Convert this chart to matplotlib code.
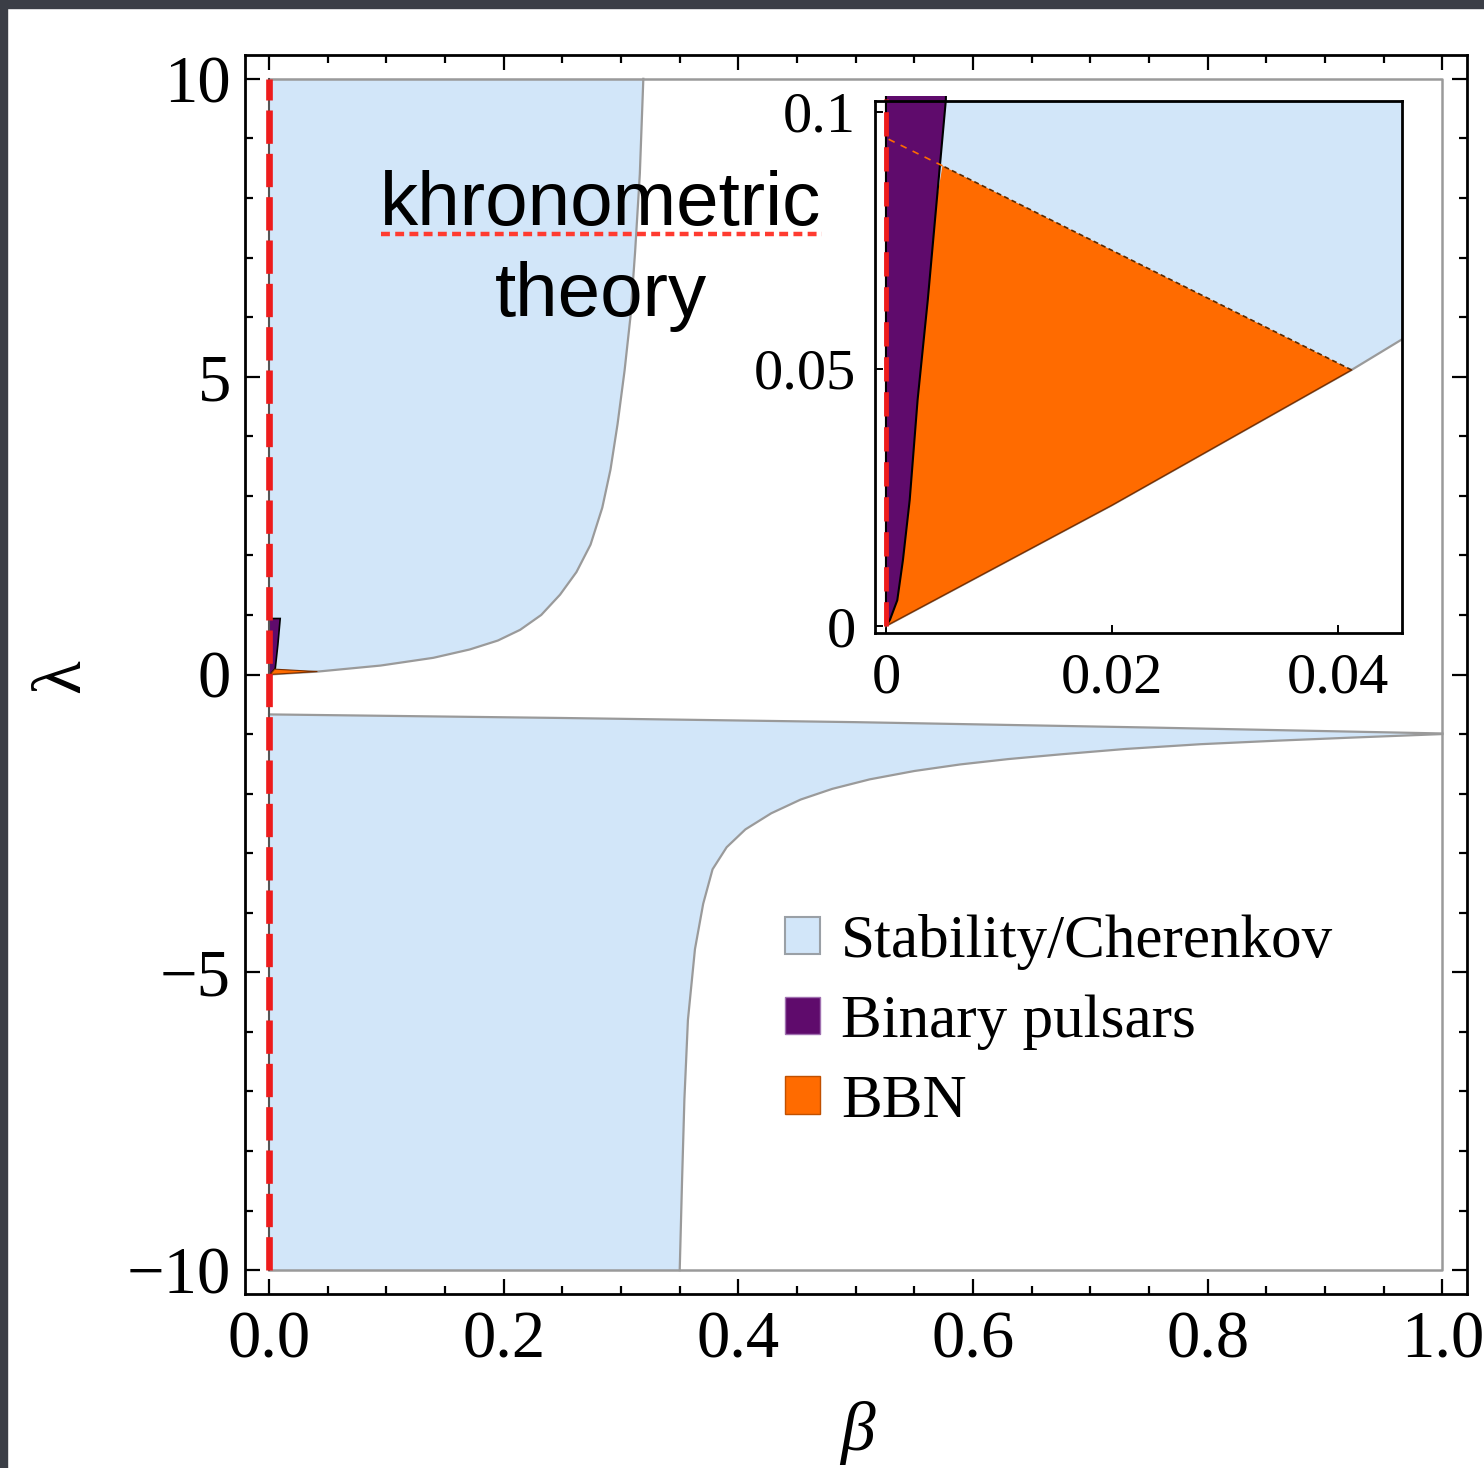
import matplotlib
matplotlib.use("Agg")
import matplotlib.pyplot as plt
from matplotlib.patches import Patch, Rectangle

# --- data ------------------------------------------------------------------
# upper stability/Cherenkov boundary (beta, lambda)
beta_upper = [0.0, 0.042, 0.095, 0.14, 0.171, 0.195, 0.214, 0.232, 0.248, 0.262,
              0.274, 0.284, 0.291, 0.297, 0.303, 0.308, 0.312, 0.316, 0.319]
lam_upper = [0.0, 0.05, 0.15, 0.28, 0.42, 0.57, 0.75, 1.0, 1.34, 1.72,
             2.18, 2.8, 3.44, 4.2, 5.1, 6.0, 7.1, 8.4, 10.0]

# lower band: top edge and right-hand curve
beta_band_top = [0.0, 0.25, 0.5, 0.75, 1.0]
lam_band_top = [-0.67, -0.73, -0.80, -0.89, -0.99]
beta_lower = [0.35, 0.352, 0.354, 0.357, 0.363, 0.37, 0.378, 0.39, 0.406, 0.428, 0.453,
              0.48, 0.512, 0.55, 0.589, 0.63, 0.675, 0.73, 0.794, 0.86, 0.922, 1.0]
lam_lower = [-10.0, -8.5, -7.13, -5.8, -4.61, -3.85, -3.27, -2.9, -2.60, -2.33, -2.10,
             -1.92, -1.76, -1.62, -1.51, -1.42, -1.34, -1.25, -1.17, -1.11, -1.06, -1.0]

# binary pulsars: right edge of the allowed strip
beta_pulsar = [0.0, 0.00035, 0.001, 0.0015, 0.0021, 0.0028, 0.0037, 0.0045, 0.0053, 0.0075, 0.0095]
lam_pulsar = [0.0, 0.0012, 0.005, 0.0128, 0.0245, 0.044, 0.0634, 0.0829, 0.1023, 0.5, 0.94]

# BBN region: lower edge along the stability line, upper edge to the pulsar strip
beta_stab_inset = [0.0, 0.02, 0.0412, 0.0457]
lam_stab_inset = [0.0, 0.0235, 0.0498, 0.0558]
beta_bbn_top = [0.0412, 0.005]
lam_bbn_top = [0.0498, 0.0895]

x_ticks = [0.0, 0.2, 0.4, 0.6, 0.8, 1.0]
x_labels = ["0.0", "0.2", "0.4", "0.6", "0.8", "1.0"]
y_ticks = [-10, -5, 0, 5, 10]
y_labels = ["\u221210", "\u22125", "0", "5", "10"]
inset_x_ticks = [0.0, 0.02, 0.04]
inset_x_labels = ["0", "0.02", "0.04"]
inset_y_ticks = [0.0, 0.05, 0.1]
inset_y_labels = ["0", "0.05", "0.1"]

legend_labels = ["Stability/Cherenkov", "Binary pulsars", "BBN"]

BLUE = "#d2e6f9"
PURPLE = "#5f0b6c"
ORANGE = "#ff6b00"
GREY = "#9a9a9a"
RED = "#ee1c1c"

plt.rcParams["font.family"] = ["Liberation Serif", "DejaVu Serif"]

W, H = 1484, 1468
fig = plt.figure(figsize=(W / 100, H / 100), dpi=100)
fig.patch.set_facecolor("white")

# dark slide frame along the top and left edges
fig.patches.append(Rectangle((0, 1 - 8 / H), 1, 8 / H, transform=fig.transFigure,
                             color="#3b3e46", zorder=0))
fig.patches.append(Rectangle((0, 0), 7 / W, 1, transform=fig.transFigure,
                             color="#3b3e46", zorder=0))


def pulsar_poly():
    xs = list(beta_pulsar) + [0.0]
    ys = list(lam_pulsar) + [lam_pulsar[-1]]
    return xs, ys


def bbn_poly():
    xs = list(beta_stab_inset[:3]) + list(beta_bbn_top[1:])
    ys = list(lam_stab_inset[:3]) + list(lam_bbn_top[1:])
    # follow the pulsar edge back down to the origin
    for b, l in reversed(list(zip(beta_pulsar, lam_pulsar))):
        if l < lam_bbn_top[-1]:
            xs.append(b)
            ys.append(l)
    return xs, ys


# --- main axes -------------------------------------------------------------
ax = fig.add_axes([245 / W, 1 - 1294 / H, (1467 - 245) / W, (1294 - 55) / H])
ax.set_xlim(-0.0205, 1.021)
ax.set_ylim(-10.4, 10.4)

ux = [0.0] + beta_upper + [beta_upper[-1]]
uy = [10.0] + lam_upper + [10.0]
ax.fill(ux, uy, color=BLUE, lw=0, zorder=1)
ax.plot(beta_upper, lam_upper, color=GREY, lw=1.6, zorder=2)

lx = [0.0] + beta_lower + beta_band_top[::-1]
ly = [-10.0] + lam_lower + lam_band_top[::-1]
ax.fill(lx, ly, color=BLUE, lw=0, zorder=1)
ax.plot(beta_lower, lam_lower, color=GREY, lw=1.6, zorder=2)
ax.plot(beta_band_top, lam_band_top, color=GREY, lw=1.6, zorder=2)

# region-plot frame
ax.plot([0, 1, 1, 0], [10, 10, -10, -10], color=GREY, lw=1.8, zorder=2)

px, py = pulsar_poly()
ax.fill(px, py, facecolor=PURPLE, edgecolor="black", lw=1.2, zorder=3)
bx, by = bbn_poly()
ax.fill(bx, by, facecolor=ORANGE, edgecolor="#7a3000", lw=0.8, zorder=3)

ax.plot([0, 0], [-10, 10], color="#555555", lw=1.5, zorder=4)
ax.plot([0, 0], [-10, 10], color=RED, lw=4.8, dashes=(5, 1.5), zorder=5)

ax.set_xticks(x_ticks)
ax.set_xticklabels(x_labels)
ax.set_yticks(y_ticks)
ax.set_yticklabels(y_labels)
ax.set_xticks([i * 0.05 for i in range(21)], minor=True)
ax.set_yticks(list(range(-10, 11)), minor=True)
ax.tick_params(which="both", direction="in", top=True, right=True, width=1.6,
               labelsize=48, colors="black")
ax.tick_params(which="major", length=11)
ax.tick_params(which="minor", length=6)
ax.tick_params(axis="x", pad=12)
ax.tick_params(axis="y", pad=10)
for s in ax.spines.values():
    s.set_linewidth(2.0)

fig.text(857 / W, 1 - 1433 / H, "\u03b2", fontsize=50, style="italic",
         ha="center", va="center")
fig.text(62 / W, 1 - 676 / H, "\u03bb", fontsize=50, rotation=90,
         ha="center", va="center")

handles = [Patch(facecolor=BLUE, edgecolor="#9aa0a6", lw=1.5),
           Patch(facecolor=PURPLE, edgecolor="#a070b0", lw=1.0),
           Patch(facecolor=ORANGE, edgecolor="#c05000", lw=1.0)]
ax.legend(handles, legend_labels, loc="upper left",
          bbox_to_anchor=(785 / W, 1 - 914 / H), bbox_transform=fig.transFigure,
          frameon=False, fontsize=44, borderpad=0, borderaxespad=0,
          handlelength=0.57, handleheight=0.57, handletextpad=0.35,
          labelspacing=0.40)

# annotation in a sans font, with the spell-check squiggle
fig.text(601 / W, 1 - 205 / H, "khronometric", fontsize=55,
         family=["Liberation Sans", "DejaVu Sans"], ha="center", va="center")
fig.text(601 / W, 1 - 297 / H, "theory", fontsize=55,
         family=["Liberation Sans", "DejaVu Sans"], ha="center", va="center")
fig.add_artist(plt.Line2D([381 / W, 822 / W], [1 - 234 / H, 1 - 234 / H],
                          transform=fig.transFigure, color="#ff3b30", lw=3.2,
                          dashes=(2.0, 1.2)))

# --- inset -----------------------------------------------------------------
ins = fig.add_axes([875 / W, 1 - 633 / H, (1402 - 875) / W, (633 - 101) / H])
ins.set_xlim(-0.00097, 0.04566)
ins.set_ylim(-0.00136, 0.1021)
ins.set_facecolor("white")

sx = list(beta_stab_inset) + [beta_stab_inset[-1], 0.0]
sy = list(lam_stab_inset) + [0.12, 0.12]
ins.fill(sx, sy, color=BLUE, lw=0, zorder=1)
ins.plot(beta_stab_inset, lam_stab_inset, color=GREY, lw=1.6, zorder=2)

clip = Rectangle((-0.002, -0.00136), 0.05, 0.1045, transform=ins.transData)
bx, by = bbn_poly()
ins.fill(bx, by, facecolor=ORANGE, edgecolor="none", zorder=3)
ins.plot(beta_bbn_top, lam_bbn_top, color="#5a2a00", lw=1.2, dashes=(3, 2), zorder=4)
ins.plot(beta_stab_inset[:3], lam_stab_inset[:3], color="#7a3000", lw=1.0, zorder=4)
ins.plot([beta_bbn_top[1], 0.0],
         [lam_bbn_top[1], lam_bbn_top[1] + 1.083 * beta_bbn_top[1]],
         color=ORANGE, lw=1.2, dashes=(4, 4), zorder=6)
px, py = pulsar_poly()
pp = ins.fill(px, py, facecolor=PURPLE, edgecolor="black", lw=1.5, zorder=5)[0]
pp.set_clip_path(clip)
rl = ins.plot([0, 0], [0, 0.1025], color=RED, lw=3.5, dashes=(5, 2.2), zorder=7)[0]
rl.set_clip_path(clip)

ins.set_xticks(inset_x_ticks)
ins.set_xticklabels(inset_x_labels)
ins.set_yticks(inset_y_ticks)
ins.set_yticklabels(inset_y_labels)
ins.tick_params(direction="in", length=6, width=1.4, labelsize=42, pad=14)
for s in ins.spines.values():
    s.set_linewidth(2.0)
    s.set_zorder(8)

fig.savefig("out.png", dpi=100)
